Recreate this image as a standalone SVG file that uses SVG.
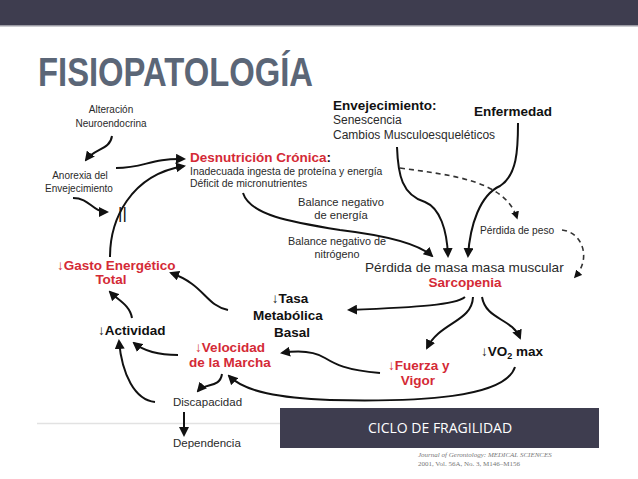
<svg xmlns="http://www.w3.org/2000/svg" width="638" height="479" viewBox="0 0 638 479">
<defs>
<marker id="ah" viewBox="0 0 10 10" refX="8" refY="5" markerWidth="5" markerHeight="5" orient="auto-start-reverse">
<path d="M0,0 L10,5 L0,10 z" fill="#111"/>
</marker>
<style>
.t{font-family:"Liberation Sans",Arial,sans-serif;fill:#2a2a2a;}
.s{font-size:10px;}
.m{font-size:12px;}
.b{font-weight:bold;font-size:13.5px;fill:#111;}
.r{font-weight:bold;font-size:13.5px;fill:#d42a36;}
.c{stroke:#111;stroke-width:2;fill:none;marker-end:url(#ah);}
.d{stroke:#333;stroke-width:1.6;fill:none;stroke-dasharray:5,4;marker-end:url(#ah);}
</style>
</defs>
<rect width="638" height="479" fill="#fff"/>
<rect x="0" y="0" width="638" height="25" fill="#3e3d4f"/>
<rect x="0" y="25" width="638" height="1.5" fill="#9a9aa3"/>
<text x="38" y="86" font-family="Liberation Sans,Arial,sans-serif" font-weight="bold" font-size="41" fill="#5b6677" textLength="275" lengthAdjust="spacingAndGlyphs">FISIOPATOLOGÍA</text>
<line x1="37" y1="423.5" x2="280" y2="423.5" stroke="#e2e2e2" stroke-width="1.5"/>

<g id="connectors">
<path class="c" d="M112,136 C110,150 95,148 86,160"/>
<path class="c" d="M116,168 C145,168 150,158 184,159"/>
<path class="c" d="M73,198 C90,198 92,212 107,212"/>
<path class="c" d="M110,257 C110,220 130,175 184,166"/>
<path class="c" d="M243,193 C250,215 290,222 340,230 C390,236 420,245 432,256"/>
<path class="c" d="M397,147 C398,175 402,195 425,202 C440,208 447,230 448,256"/>
<path class="c" d="M518,123 C518,150 517,175 500,186 C480,195 470,225 468,256"/>
<path class="d" d="M400,168 C450,175 505,180 517,218"/>
<path class="d" d="M562,230 C582,232 592,258 575,277"/>
<path class="c" d="M465,297 C455,305 420,307 349,310"/>
<path class="c" d="M473,297 C472,322 440,322 427,348"/>
<path class="c" d="M482,297 C486,320 512,318 520,338"/>
<path class="c" d="M228,310 C205,305 205,285 171,273"/>
<path class="c" d="M132,318 C130,305 118,300 110,292"/>
<path class="c" d="M178,355 C160,355 145,352 134,343"/>
<path class="c" d="M155,402 C135,400 122,375 119,341"/>
<path class="c" d="M380,373 C345,370 335,364 325,358 C315,352 300,350 282,353"/>
<path class="c" d="M515,367 C505,398 420,402 330,400 C280,398 245,392 229,376"/>
<path class="c" d="M222,374 C220,388 205,383 198,391"/>
<path class="c" d="M184,412 L184,435"/>
</g>

<g id="alteracion"><text class="t s" text-anchor="middle" x="111" y="113">Alteración</text><text class="t s" text-anchor="middle" x="111" y="127">Neuroendocrina</text></g>
<g id="anorexia"><text class="t s" text-anchor="middle" x="80" y="179">Anorexia del</text><text class="t s" text-anchor="middle" x="79" y="192">Envejecimiento</text></g>
<g id="igual"><text x="118" y="219" font-family="Liberation Sans,Arial,sans-serif" font-size="17" fill="#111">||</text></g>
<g id="desnutricion"><text class="t r" x="190" y="162" font-size="14">Desnutrición Crónica<tspan fill="#111">:</tspan></text><text class="t" x="190" y="175" font-size="10.4">Inadecuada ingesta de proteína y energía</text><text class="t" x="190" y="187" font-size="10.4">Déficit de micronutrientes</text></g>
<g id="envejecimiento"><text class="t b" x="333" y="110">Envejecimiento:</text><text class="t m" x="333" y="124">Senescencia</text><text class="t m" x="333" y="139">Cambios Musculoesqueléticos</text></g>
<g id="enfermedad"><text class="t b" x="474" y="116">Enfermedad</text></g>
<g id="balance1"><text class="t" font-size="11.2" text-anchor="middle" x="341" y="206">Balance negativo</text><text class="t" font-size="11.2" text-anchor="middle" x="341" y="219">de energía</text></g>
<g id="balance2"><text class="t" font-size="10.8" text-anchor="middle" x="337" y="245">Balance negativo de</text><text class="t" font-size="10.8" text-anchor="middle" x="337" y="258">nitrógeno</text></g>
<g id="perdidapeso"><text class="t" x="480" y="234" font-size="10.2">Pérdida de peso</text></g>
<g id="sarcopenia"><text class="t" x="365" y="272" font-size="13.6">Pérdida de masa masa muscular</text><text class="t r" text-anchor="middle" x="465" y="287">Sarcopenia</text></g>
<g id="tasa"><text class="t b" text-anchor="middle" x="290" y="303">↓Tasa</text><text class="t b" text-anchor="middle" x="288" y="320">Metabólica</text><text class="t b" text-anchor="middle" x="292" y="337">Basal</text></g>
<g id="gasto"><text class="t r" x="57" y="270" font-size="11.2">↓Gasto Energético</text><text class="t r" text-anchor="middle" x="111" y="284" font-size="11.5">Total</text></g>
<g id="actividad"><text class="t b" x="98" y="335">↓Actividad</text></g>
<g id="velocidad"><text class="t r" text-anchor="middle" x="230" y="352">↓Velocidad</text><text class="t r" text-anchor="middle" x="230" y="367">de la Marcha</text></g>
<g id="fuerza"><text class="t r" x="388" y="370">↓Fuerza y</text><text class="t r" text-anchor="middle" x="418" y="385">Vigor</text></g>
<g id="vo2"><text class="t b" x="481" y="356">↓VO<tspan font-size="9" dy="3">2</tspan><tspan dy="-3"> max</tspan></text></g>
<g id="discapacidad"><text class="t" x="173" y="406" font-size="11.5">Discapacidad</text></g>
<g id="dependencia"><text class="t" x="173" y="447" font-size="11.5">Dependencia</text></g>

<g id="banner"><rect x="280" y="408" width="319" height="40" fill="#3e3d4f"/><text x="440" y="433" text-anchor="middle" font-family="Open Sans,Liberation Sans,sans-serif" font-size="14" fill="#fff">CICLO DE FRAGILIDAD</text></g>
<g id="ref"><text x="418" y="457" font-family="Liberation Serif,serif" font-style="italic" font-size="7" fill="#777">Journal of Gerontology: MEDICAL SCIENCES</text><text x="418" y="466" font-family="Liberation Serif,serif" font-size="7" fill="#777">2001, Vol. 56A, No. 3, M146–M156</text></g>
</svg>
